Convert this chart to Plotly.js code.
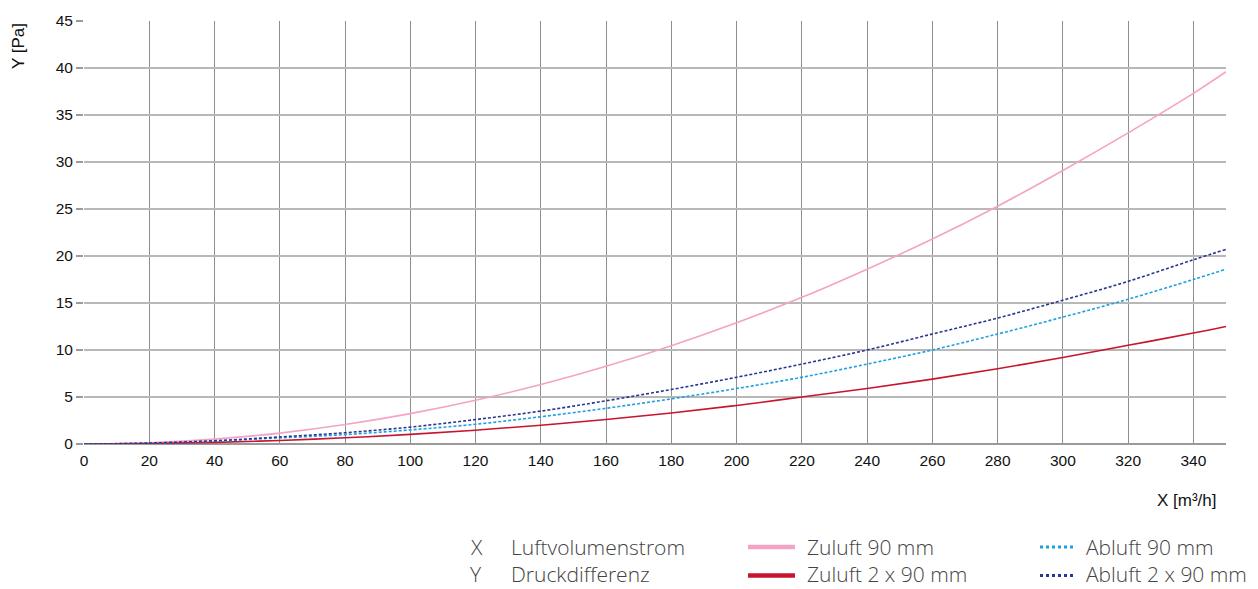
<!DOCTYPE html>
<html><head><meta charset="utf-8">
<script src="https://cdn.plot.ly/plotly-3.0.1.min.js"></script>
<style>body{margin:0;background:#fff}#c{width:1258px;height:589px}</style>
</head><body><div id="c"></div>
<script>
const xValues = [0,20,40,60,80,100,120,140,160,180,200,220,240,260,280,300,320,340,350];
const zuluft90 = [0,0.13,0.52,1.16,2.07,3.23,4.65,6.33,8.27,10.46,12.9,15.6,18.6,21.8,25.3,29.1,33.1,37.3,39.6];
const zuluft2x90 = [0,0.04,0.17,0.38,0.66,1.02,1.47,2.0,2.6,3.3,4.1,5.0,5.9,6.9,8.0,9.2,10.5,11.8,12.5];
const abluft90 = [0,0.08,0.3,0.65,1.0,1.5,2.1,2.9,3.8,4.8,5.9,7.1,8.5,10.0,11.7,13.5,15.4,17.5,18.6];
const abluft2x90 = [0,0.1,0.35,0.75,1.2,1.8,2.6,3.5,4.6,5.8,7.1,8.5,10.0,11.7,13.4,15.3,17.3,19.6,20.7];
const seriesNames = ["Zuluft 90 mm","Zuluft 2 x 90 mm","Abluft 90 mm","Abluft 2 x 90 mm"];
const axisLegend = [["X","Luftvolumenstrom"],["Y","Druckdifferenz"]];
const xTitle = "X [m³/h]";
const yTitle = "Y [Pa]";

const colors = ["#f4a3c6","#c8142e","#1ba1e2","#2b3590"];
const dashes = ["solid","solid","3px,2px","3px,2px"];
const legDashes = ["solid","solid","dot","dot"];
const data = [zuluft90, zuluft2x90, abluft90, abluft2x90];

const traces = data.map((y,i)=>({
  x: xValues, y: y, type:"scatter", mode:"lines", name: seriesNames[i],
  line:{color:colors[i], width: 1.6, dash: dashes[i], shape:"spline"},
  showlegend:false, hoverinfo:"skip"
}));
const font = {family:"Liberation Sans, Arial, sans-serif", size:15.5, color:"#111"};
const W = 1258, H = 589, L = 84, R = 32, T = 21, B = 145;
const pw = W-L-R, ph = H-T-B;
const px = v => (v-L)/pw;
const py = v => (H-B-v)/ph;

const annotations = [];
const shapes = [];
annotations.push({text:yTitle, xref:"paper", yref:"paper", x:px(19), y:py(46), textangle:-90,
  showarrow:false, font:{family:font.family,size:17,color:"#111"}, xanchor:"center", yanchor:"middle"});
annotations.push({text:xTitle, xref:"paper", yref:"paper", x:px(1219), y:py(500),
  showarrow:false, font:{family:font.family,size:17,color:"#111"}, xanchor:"right", yanchor:"middle"});

const legFont = {family:"Open Sans, Liberation Sans, sans-serif", size:21, color:"#444", weight:300};
const rowsY = [547, 574];
const sampleY = [547, 575.5];
axisLegend.forEach((r,i)=>{
  annotations.push({text:r[0], xref:"paper", yref:"paper", x:px(469), y:py(rowsY[i]), showarrow:false, font:legFont, xanchor:"left", yanchor:"middle", borderpad:0});
  annotations.push({text:r[1], xref:"paper", yref:"paper", x:px(510), y:py(rowsY[i]), showarrow:false, font:legFont, xanchor:"left", yanchor:"middle", borderpad:0});
});
const legPos = [[748,795,806,0],[748,795,806,1],[1040,1073,1085,0],[1040,1073,1085,1]];
seriesNames.forEach((n,i)=>{
  const p = legPos[i];
  shapes.push({type:"line", xref:"paper", yref:"paper", x0:px(p[0]), x1:px(p[1]), y0:py(sampleY[p[3]]), y1:py(sampleY[p[3]]),
    line:{color:colors[i], width: legDashes[i]==="solid"?4.5:3, dash: legDashes[i]}});
  annotations.push({text:n, xref:"paper", yref:"paper", x:px(p[2]), y:py(rowsY[p[3]]), showarrow:false, font:legFont, xanchor:"left", yanchor:"middle", borderpad:0});
});

const layout = {
  width:W, height:H, margin:{l:L,r:R,t:T,b:B}, paper_bgcolor:"#fff", plot_bgcolor:"#fff",
  font: font, showlegend:false,
  xaxis:{range:[0,350], dtick:20, tick0:0, showgrid:true, gridcolor:"#8e8e8e", gridwidth:1,
    zeroline:false, showline:false, ticks:"", tickfont:font, ticklabelstandoff:5, fixedrange:true},
  yaxis:{range:[0,45], dtick:5, tick0:0, showgrid:true, gridcolor:"#b8b8b8", gridwidth:1.5,
    zeroline:true, zerolinecolor:"#9a9a9a", zerolinewidth:1.5, showline:false,
    ticks:"outside", ticklen:7, tickcolor:"#9a9a9a", tickwidth:1.5, tickfont:font, fixedrange:true},
  annotations: annotations, shapes: shapes
};
Plotly.newPlot("c", traces, layout, {staticPlot:true, displayModeBar:false});
</script></body></html>
